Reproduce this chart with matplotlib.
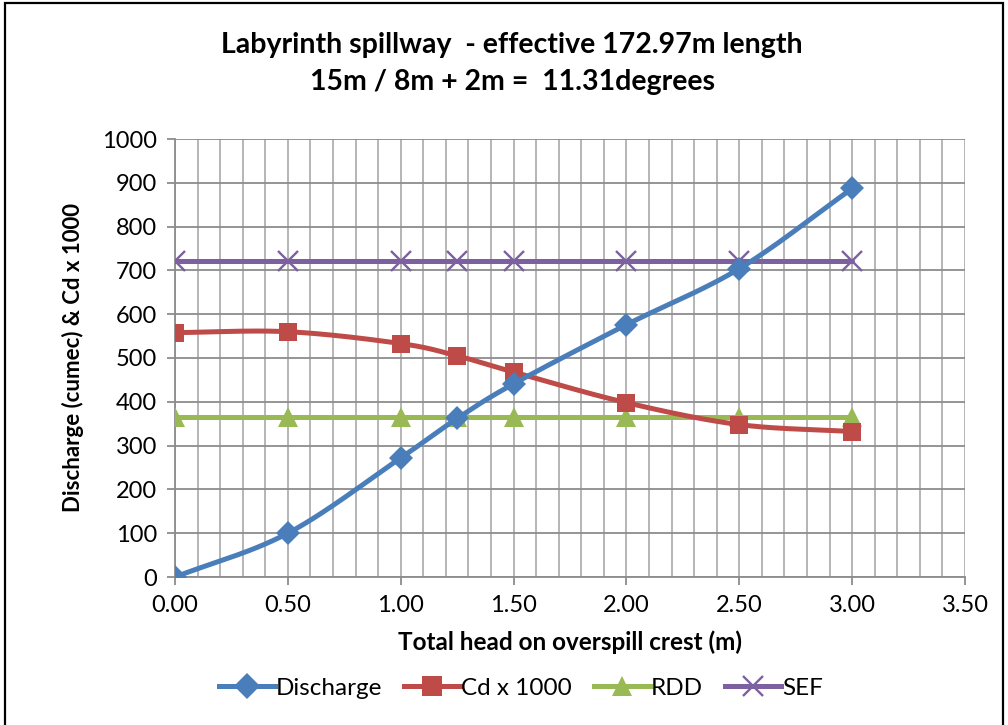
import numpy as np
import matplotlib
matplotlib.use("Agg")
import matplotlib.pyplot as plt
from matplotlib.patches import Rectangle
from matplotlib.lines import Line2D

plt.rcParams['font.family'] = ['Lato', 'DejaVu Sans']

# Head on the crest (m)
head = [0.0, 0.5, 1.0, 1.25, 1.5, 2.0, 2.5, 3.0]
discharge = [0, 100, 272, 362, 441, 576, 704, 887]
cd_x1000 = [558, 560, 533, 505, 468, 398, 348, 332]
rdd = [366, 366, 366, 366, 366, 366, 366, 366]
sef = [721, 721, 721, 721, 721, 721, 721, 721]

title_lines = ["Labyrinth spillway  - effective 172.97m length",
               "15m / 8m + 2m =  11.31degrees"]
x_ticks = [0.0, 0.5, 1.0, 1.5, 2.0, 2.5, 3.0, 3.5]
y_ticks = list(range(0, 1001, 100))


def smooth(x, y, n=30):
    """Catmull-Rom curve through the points, like a smoothed spreadsheet line."""
    x = np.asarray(x, float)
    y = np.asarray(y, float)
    px = np.concatenate([[2 * x[0] - x[1]], x, [2 * x[-1] - x[-2]]])
    py = np.concatenate([[2 * y[0] - y[1]], y, [2 * y[-1] - y[-2]]])
    xs, ys = [], []
    t = np.linspace(0, 1, n)
    for i in range(1, len(px) - 2):
        for arr, out in ((px, xs), (py, ys)):
            p0, p1, p2, p3 = arr[i - 1], arr[i], arr[i + 1], arr[i + 2]
            out.extend(0.5 * ((2 * p1) + (-p0 + p2) * t
                              + (2 * p0 - 5 * p1 + 4 * p2 - p3) * t ** 2
                              + (-p0 + 3 * p1 - 3 * p2 + p3) * t ** 3))
    return np.array(xs), np.array(ys)


W, H = 1008, 725
fig = plt.figure(figsize=(W / 100, H / 100), dpi=100)
ax = fig.add_axes([175 / W, 1 - 577 / H, (965 - 175) / W, (577 - 139) / H])

series = [
    ("Discharge", discharge, "#4a7ebb", "D", 12),
    ("Cd x 1000", cd_x1000, "#be4b48", "s", 13),
    ("RDD", rdd, "#98b954", "^", 14),
    ("SEF", sef, "#7d60a0", "x", 14),
]
LW = 3.6

handles = []
for z, (label, vals, color, marker, ms) in enumerate(reversed(series)):
    sx, sy = smooth(head, vals)
    ax.plot(sx, sy, color=color, lw=LW, zorder=3 + z, solid_capstyle='round')
    mew = 1.7 if marker == "x" else 0
    ax.plot(head, vals, linestyle='none', marker=marker, ms=ms,
            color=color, mec=color, mew=mew, zorder=3 + z)

for label, vals, color, marker, ms in series:
    mew = 1.7 if marker == "x" else 0
    handles.append(Line2D([], [], color=color, lw=LW, marker=marker,
                          ms=ms + 1, mec=color, mew=mew, label=label))

ax.set_xlim(0, 3.5)
ax.set_ylim(0, 1000)
ax.set_xticks(x_ticks)
ax.set_xticklabels([f"{v:.2f}" for v in x_ticks])
ax.set_yticks(y_ticks)
ax.set_xticks(np.arange(0, 3.5001, 0.1), minor=True)

ax.grid(True, which='major', axis='y', color='#8c8c8c', lw=1.3)
ax.grid(True, which='minor', axis='x', color='#b0b0b0', lw=1.3)
ax.grid(True, which='major', axis='x', color='#b0b0b0', lw=1.3)
ax.set_axisbelow(True)

for s in ('top', 'right'):
    ax.spines[s].set_visible(False)
for s in ('left', 'bottom'):
    ax.spines[s].set_color('#8c8c8c')
    ax.spines[s].set_linewidth(1.3)

ax.tick_params(axis='both', which='major', direction='out', length=6,
               width=1.3, color='#8c8c8c', labelsize=17, pad=7)
ax.tick_params(axis='x', which='minor', length=0)

ax.set_xlabel("Total head on overspill crest (m)", fontsize=17.5,
              fontweight='bold', labelpad=10)
ax.set_ylabel("Discharge (cumec) & Cd x 1000", fontsize=16,
              fontweight='bold', labelpad=13)

fig.text(512 / W, 1 - 45 / H, title_lines[0], ha='center', va='center',
         fontsize=20.5, fontweight='bold')
fig.text(512 / W, 1 - 82 / H, title_lines[1], ha='center', va='center',
         fontsize=20.5, fontweight='bold')

fig.legend(handles=handles, loc='center', bbox_to_anchor=(521 / W, 1 - 688 / H),
           ncol=4, frameon=False, fontsize=17.5, handlelength=2.3,
           handletextpad=0.05, columnspacing=0.9)

# Outer frame of the chart
fig.patches.append(Rectangle((5 / W, -0.05), (1003 - 5) / W, 1 - 3 / H + 0.05,
                             transform=fig.transFigure, fill=False,
                             edgecolor='black', lw=1.6))

fig.savefig("out.png", dpi=100)
